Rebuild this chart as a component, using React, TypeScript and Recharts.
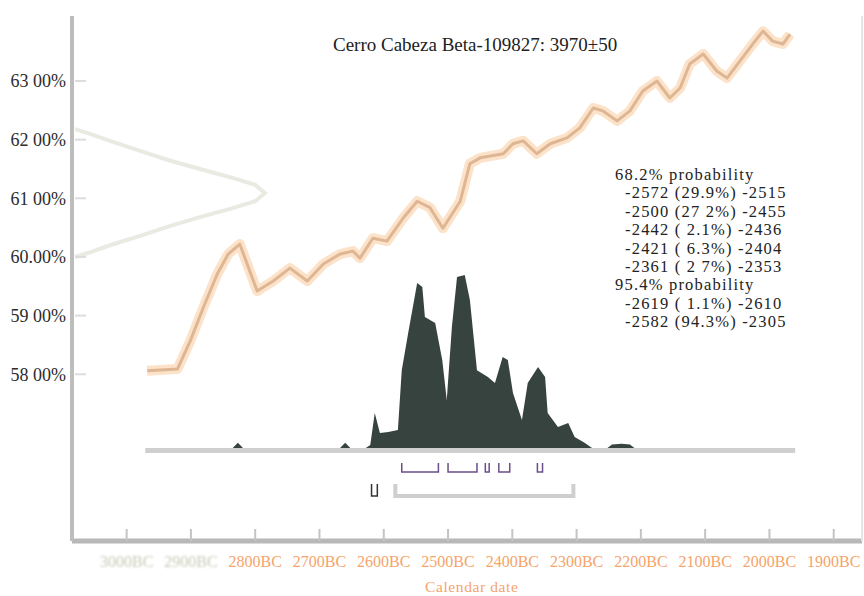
import React from 'react';
import { ComposedChart, Line, Area, XAxis, YAxis, ReferenceLine } from 'recharts';

const FONT = "'Liberation Serif', 'Times New Roman', serif";

// Calibration curve (calendar year, fraction modern %)
const curveYears = [-2968, -2921, -2901, -2881, -2859, -2842, -2824, -2797, -2772, -2746, -2719, -2694, -2668, -2648, -2637, -2617, -2595, -2570, -2548, -2528, -2508, -2481, -2466, -2450, -2414, -2399, -2383, -2362, -2341, -2315, -2295, -2274, -2259, -2237, -2217, -2197, -2175, -2155, -2139, -2124, -2103, -2082, -2066, -2046, -2026, -2010, -1995, -1979, -1968];
const curvePct = [58.06, 58.09, 58.57, 59.13, 59.71, 60.05, 60.22, 59.42, 59.59, 59.81, 59.59, 59.88, 60.05, 60.10, 59.98, 60.32, 60.27, 60.66, 60.95, 60.84, 60.49, 60.95, 61.59, 61.69, 61.76, 61.93, 61.98, 61.76, 61.93, 62.03, 62.20, 62.54, 62.49, 62.32, 62.49, 62.83, 63.00, 62.71, 62.88, 63.29, 63.46, 63.17, 63.05, 63.34, 63.63, 63.85, 63.68, 63.63, 63.80];

// Radiocarbon determination (drawn sideways along the y axis)
const rcX = [-3080, -3057, -3026, -2979, -2932, -2886, -2839, -2800, -2785, -2800, -2839, -2886, -2932, -2979, -3026, -3057, -3080];
const rcPct = [62.18, 62.10, 61.98, 61.81, 61.64, 61.50, 61.36, 61.23, 61.09, 60.95, 60.82, 60.68, 60.53, 60.36, 60.20, 60.08, 60.00];

// Posterior calendar-date distribution (relative probability)
const postYears = [-2990, -2835, -2827, -2819, -2668, -2660, -2652, -2628, -2621, -2614, -2606, -2593, -2578, -2572, -2562, -2548, -2540, -2536, -2520, -2509, -2502, -2494, -2486, -2474, -2466, -2455, -2438, -2427, -2415, -2407, -2399, -2385, -2376, -2360, -2349, -2345, -2329, -2313, -2303, -2287, -2276, -2252, -2245, -2230, -2217, -2210, -1950];
const postProbs = [0, 0, 3, 0, 0, 3, 0, 0, 1.7, 20.2, 8.7, 9.2, 10.4, 45, 66.5, 95.4, 93.1, 75.7, 72.3, 50.9, 27.7, 69.9, 98.8, 100, 85.5, 45, 41, 37.6, 52.6, 50.9, 31.8, 16.2, 37.6, 46.8, 41, 20.2, 12.1, 14.5, 6.4, 2.9, 0, 0, 2, 2.5, 2, 0, 0];

// Ranges
const range68 = [[-2572, -2515], [-2500, -2455], [-2442, -2436], [-2421, -2404], [-2361, -2353]];
const range95 = [[-2619, -2610], [-2582, -2305]];
const baselineRange = [-2971, -1960];

// Axes
const xTickValues = [-3000, -2900, -2800, -2700, -2600, -2500, -2400, -2300, -2200, -2100, -2000, -1900];
const xTickLabels = ['3000BC', '2900BC', '2800BC', '2700BC', '2600BC', '2500BC', '2400BC', '2300BC', '2200BC', '2100BC', '2000BC', '1900BC'];
const yTickValues = [58, 59, 60, 61, 62, 63];
const yTickLabels = ['58 00%', '59 00%', '60.00%', '61 00%', '62 00%', '63 00%'];

const title = 'Cerro Cabeza Beta-109827: 3970±50';
const xAxisTitle = 'Calendar date';
const probHeader68 = '68.2% probability';
const probLines68 = ['-2572 (29.9%) -2515', '-2500 (27 2%) -2455', '-2442 ( 2.1%) -2436', '-2421 ( 6.3%) -2404', '-2361 ( 2 7%) -2353'];
const probHeader95 = '95.4% probability';
const probLines95 = ['-2619 ( 1.1%) -2610', '-2582 (94.3%) -2305'];

const curveData = curveYears.map((x, i) => ({ x, y: curvePct[i] }));
const rcData = rcX.map((x, i) => ({ x, y: rcPct[i] }));
const postData = postYears.map((x, i) => ({ x, p: postProbs[i] }));

const B68_TOP = -8.7, B68_BOT = -13.9, B95_TOP = -20.8, B95_BOT = -27.7;
const bracket = (r: number[], top: number, bot: number) => [
  { x: r[0], p: top }, { x: r[0], p: bot }, { x: r[1], p: bot }, { x: r[1], p: top },
];

function XTick(props: any) {
  const { x, y, payload } = props;
  const i = xTickValues.indexOf(payload.value);
  const faded = i < 2;
  return (
    <g>
      <line x1={x} x2={x} y1={y - 15} y2={y - 27} stroke="#c4c4c4" strokeWidth={2} />
      <text x={x} y={y} dy="0.71em" textAnchor="middle" fontSize={16} fontFamily={FONT}
        fill={faded ? '#c6cab4' : '#f5a46a'} style={faded ? { filter: 'blur(1.1px)' } : undefined}>
        {xTickLabels[i]}
      </text>
    </g>
  );
}

function YTick(props: any) {
  const { x, y, payload } = props;
  const i = yTickValues.indexOf(payload.value);
  return (
    <g>
      <line x1={x + 9} x2={x + 20} y1={y} y2={y} stroke="#dcdcdc" strokeWidth={2} />
      <text x={x} y={y} dy="0.35em" textAnchor="end" fontSize={18} fontFamily={FONT} fill="#2b2b2b">
        {yTickLabels[i]}
      </text>
    </g>
  );
}

const XDOM: [number, number] = [-3085, -1856];

export default function App() {
  return (
    <div style={{ position: 'relative', width: 864, height: 596, background: '#fff', fontFamily: FONT }}>
      <style>{'body{margin:0;background:#fff}'}</style>
      <ComposedChart width={864} height={596} margin={{ top: 16, right: 0, bottom: 0, left: 0 }}>
        <XAxis type="number" dataKey="x" domain={XDOM} allowDataOverflow ticks={xTickValues} interval={0}
          height={55} tickSize={0} tickMargin={15} tickLine={false} tick={<XTick />}
          axisLine={{ stroke: '#b8b8b8', strokeWidth: 5 }} />
        <XAxis xAxisId="top" orientation="top" type="number" dataKey="x" domain={XDOM} allowDataOverflow
          height={0} tick={false} tickLine={false} axisLine={{ stroke: '#b4b4b4', strokeWidth: 5 }} />
        <YAxis type="number" domain={[55.158, 64.108]} allowDataOverflow ticks={yTickValues} interval={0}
          width={72} tickSize={0} tickMargin={6} tickLine={false} tick={<YTick />}
          axisLine={{ stroke: '#bdbdbd', strokeWidth: 4 }} />
        <YAxis yAxisId="prob" hide type="number" domain={[-53.76, 249.7]} allowDataOverflow />
        <YAxis yAxisId="right" orientation="right" width={2} type="number" domain={[0, 1]} tick={false}
          tickLine={false} axisLine={{ stroke: '#e6e6e6', strokeWidth: 2 }} />

        <Line data={rcData} dataKey="y" type="linear" stroke="#e9eae2" strokeWidth={4} dot={false}
          isAnimationActive={false} />
        <Line data={curveData} dataKey="y" type="linear" stroke="#fbe2c8" strokeWidth={10} dot={false}
          isAnimationActive={false} strokeLinejoin="round" />
        <Line data={curveData} dataKey="y" type="linear" stroke="#dfb694" strokeWidth={3} dot={false}
          isAnimationActive={false} strokeLinejoin="round" />

        <ReferenceLine yAxisId="prob" segment={[{ x: baselineRange[0], y: -1.45 }, { x: baselineRange[1], y: -1.45 }]}
          stroke="#cfcfcf" strokeWidth={5} />
        <Area data={postData} yAxisId="prob" dataKey="p" type="linear" fill="#37433e" fillOpacity={1}
          stroke="none" baseValue={0} isAnimationActive={false} />

        {range68.map((r, i) => (
          <Line key={'b68' + i} data={bracket(r, B68_TOP, B68_BOT)} yAxisId="prob" dataKey="p" type="linear"
            stroke="#6b4e88" strokeWidth={1.5} dot={false} isAnimationActive={false} />
        ))}
        {range95.map((r, i) => (
          <Line key={'b95' + i} data={bracket(r, B95_TOP, B95_BOT)} yAxisId="prob" dataKey="p" type="linear"
            stroke={i === 0 ? '#333333' : '#cfcfcf'} strokeWidth={i === 0 ? 1.5 : 4} dot={false}
            isAnimationActive={false} />
        ))}
      </ComposedChart>

      <div style={{ position: 'absolute', left: 333, top: 35, fontSize: 19, lineHeight: '19px', color: '#222', whiteSpace: 'nowrap' }}>
        {title}
      </div>
      <div style={{ position: 'absolute', left: 425, top: 579, fontSize: 15.5, lineHeight: '16px', color: '#f5a46a', whiteSpace: 'nowrap', letterSpacing: 0.6 }}>
        {xAxisTitle}
      </div>
      <div style={{ position: 'absolute', left: 615, top: 166, fontSize: 16.5, lineHeight: '18.4px', color: '#222', whiteSpace: 'pre', letterSpacing: 1.2 }}>
        <div>{probHeader68}</div>
        {probLines68.map((t, i) => <div key={i} style={{ paddingLeft: 10 }}>{t}</div>)}
        <div>{probHeader95}</div>
        {probLines95.map((t, i) => <div key={i} style={{ paddingLeft: 10 }}>{t}</div>)}
      </div>
    </div>
  );
}
